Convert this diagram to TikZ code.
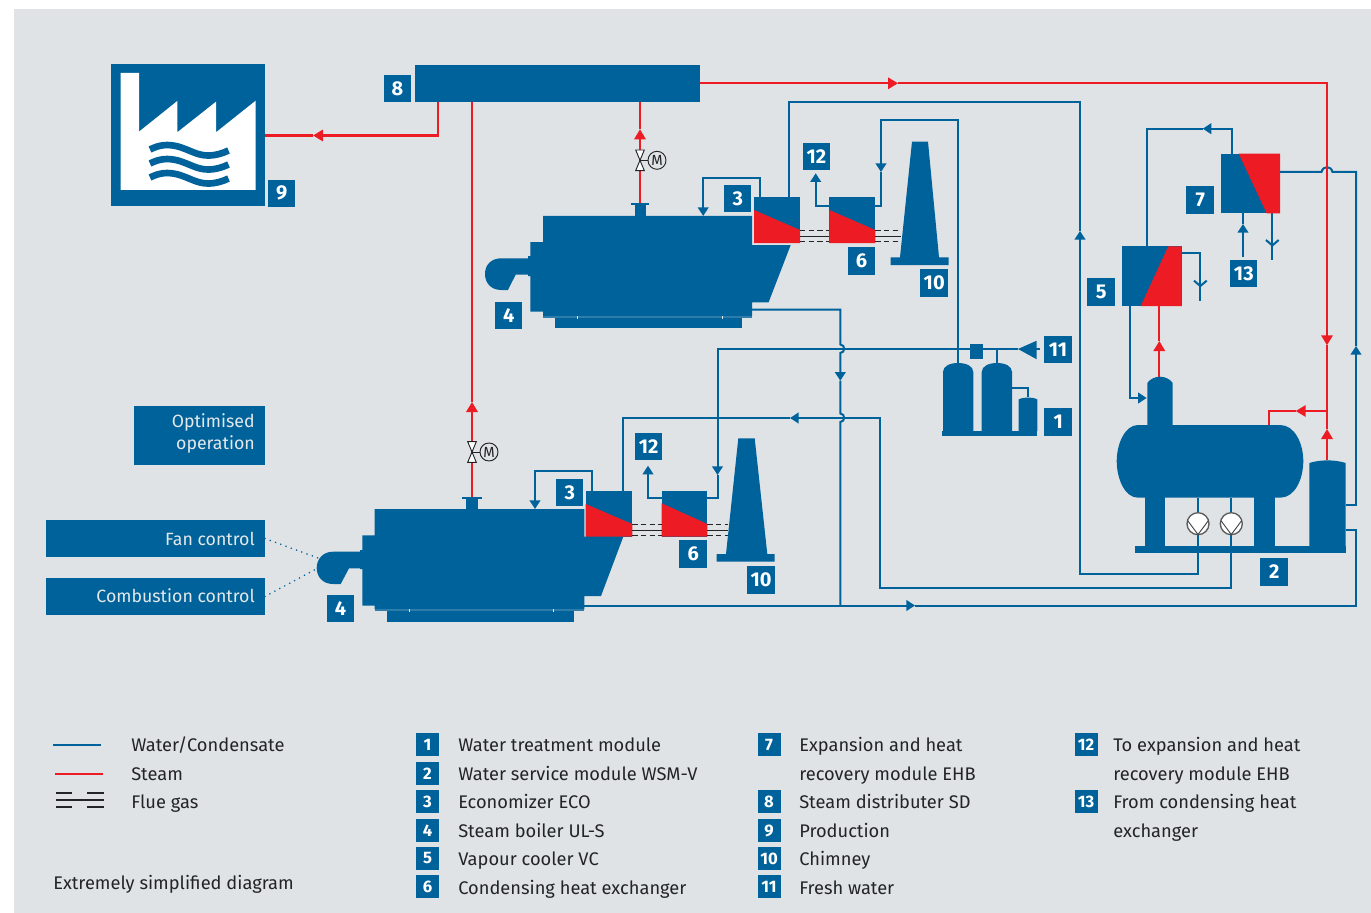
\documentclass[tikz,border=0pt]{standalone}
\usepackage{fontspec}
\setmainfont{Fira Sans}
\usetikzlibrary{arrows.meta}
\definecolor{bg}{HTML}{DFE3E6}
\definecolor{bl}{HTML}{00629A}
\definecolor{rd}{HTML}{ED1C24}
\definecolor{ink}{HTML}{222426}
\definecolor{pale}{HTML}{E4E8EA}
\tikzset{
  x=0.75pt,y=-0.75pt,
  water/.style={draw=bl,line width=1.5pt},
  steam/.style={draw=rd,line width=1.6pt},
  flowtip/.style={-{Triangle[length=6.5pt,width=8pt]}},
  steamtip/.style={-{Triangle[length=7.5pt,width=8.5pt]}},
  gasdash/.style={draw=ink,line width=0.8pt,dash pattern=on 4pt off 2.5pt},
  gasline/.style={draw=ink,line width=0.9pt},
  blockbox/.style={fill=bl,draw=none,inner sep=0pt,outer sep=0pt},
  hxbox/.style={fill=bl,draw=none,inner sep=0pt,outer sep=0pt},
  tagbox/.style={fill=bl,text=white,inner sep=0pt,outer sep=0pt,font=\fontsize{15}{15}\selectfont\bfseries},
  keybox/.style={fill=bl,text=white,inner sep=0pt,outer sep=0pt,font=\fontsize{12.5}{12.5}\selectfont\bfseries},
  ctrlbox/.style={fill=bl,inner sep=0pt,outer sep=0pt},
  ctrltext/.style={text=pale,anchor=base east,inner sep=0pt,font=\fontsize{13.3}{13.3}\selectfont},
  keytext/.style={text=ink,anchor=base west,inner sep=0pt,font=\fontsize{13.7}{13.7}\selectfont},
  pumpring/.style={circle,fill=white,draw=ink!75,line width=1pt,minimum size=16.5pt,inner sep=0pt,outer sep=0pt},
  motor/.style={circle,draw=ink,line width=0.7pt,minimum size=13.5pt,inner sep=0pt,outer sep=0pt,font=\fontsize{11}{11}\selectfont,text=ink},
  dots/.style={draw=bl,line width=1.3pt,line cap=round,dash pattern=on 0pt off 4.2pt}
}
\newcommand{\blk}[6]{\node[#1,minimum width={((#5)-(#3))*0.75pt},minimum height={((#6)-(#4))*0.75pt}] (#2) at ({(#3+#5)/2},{(#4+#6)/2}) {};}
\newcommand{\numtag}[7][tagbox]{\node[#1,minimum width={((#5)-(#3))*0.75pt},minimum height={((#6)-(#4))*0.75pt}] (#2) at ({(#3+#5)/2},{(#4+#6)/2}) {#7};}
\newcommand{\fluegas}[2]{%
  \draw[gasdash] ([yshift=-8.2pt]#1.east) -- ([yshift=-8.2pt]#2.west);
  \draw[gasline] ([yshift=-12.4pt]#1.east) -- ([yshift=-12.4pt]#2.west);
  \draw[gasdash] ([yshift=-16.2pt]#1.east) -- ([yshift=-16.2pt]#2.west);}
\newcommand{\valve}[3]{% name x y
  \draw[fill=white,draw=ink,line width=0.7pt] (#2-4.3,#3-10.3) -- (#2+4.3,#3-10.3) -- (#2,#3) -- cycle;
  \draw[fill=white,draw=ink,line width=0.7pt] (#2-4.3,#3+10.3) -- (#2+4.3,#3+10.3) -- (#2,#3) -- cycle;
  \node[motor] (#1) at (#2+17,#3) {M};
  \draw[draw=ink,line width=0.7pt] (#2,#3) -- (#1.west);}
\newcommand{\key}[3]{\numtag[keybox]{k#1}{#2}{#3-11.5}{#2+23}{#3+11.5}{#1}}
\begin{document}
\begin{tikzpicture}
\useasboundingbox (0,0) rectangle (1371,913);
\fill[white] (0,0) rectangle (1371,913);
\fill[bg] (14,9) rectangle (1371,913);

% ---------- named blocks that connectors attach to
\blk{blockbox}{dist}{415.4}{65}{700}{102}
\blk{blockbox}{factory}{111}{64}{265}{206}
\coordinate (chimAin) at (901,220);
\coordinate (chimBin) at (728,513.7);

% ---------- named ports
\coordinate (ecoAloopOut) at (760,197);
\coordinate (boilAin) at (703.2,216);
\coordinate (ecoAtop) at (789.3,197);
\coordinate (cheAleft) at (829.3,205.7);
\coordinate (cheAright) at (875.4,205.7);
\coordinate (wtTop) at (957.5,363);
\coordinate (wtTopB) at (997,363);
\coordinate (freshTip) at (1018,349);
\coordinate (cheBright) at (707.3,498);
\coordinate (cheBleft) at (661.7,498);
\coordinate (ecoBloopOut) at (591.7,490.7);
\coordinate (boilBin) at (535,509);
\coordinate (ecoBtop) at (622.7,490.7);
\coordinate (boilAout) at (752,309.5);
\coordinate (boilBout) at (584.3,605.5);
\coordinate (wsReturn) at (1345.7,530);
\coordinate (wsFeed) at (1345.7,504.7);
\coordinate (vcTop) at (1147.3,246.3);
\coordinate (ehbTop) at (1232,153.7);
\coordinate (ehbRight) at (1280,172);
\coordinate (ehbDrain) at (1272.3,213.3);
\coordinate (ehbDrainEnd) at (1272.3,260);
\coordinate (vcRight) at (1181.7,252.7);
\coordinate (vcDrainEnd) at (1200.3,300.7);
\coordinate (vcBottom) at (1130,306);
\coordinate (daIn) at (1146.7,398);
\coordinate (daTop) at (1159.3,376.7);
\coordinate (vcRed) at (1159.3,306);
\coordinate (pump1top) at (1198,497.7);
\coordinate (pump2top) at (1231.3,497.7);
\coordinate (flashTop) at (1327,460);
\coordinate (junction) at (1327,411);
\coordinate (tankSteam) at (1269,425);
\coordinate (noz1) at (640,204);
\coordinate (noz2) at (472,497.7);

% ---------- pumps (nodes, filled in later over the pipes)
\path (1198,523.7) node[pumpring,draw=none,fill=none] (pump1) {};
\path (1231.3,523.7) node[pumpring,draw=none,fill=none] (pump2) {};

% ---------- water pipes
\draw[water,flowtip] (ecoAloopOut) -- (760,178) -- (703.2,178) -- (boilAin);
\draw[water,flowtip] (pump1.south) -- (1198,573.7) -- (1080,573.7) -- (1080,231);
\draw[water] (1080,231) -- (1080,102) -- (789.3,102) -- (ecoAtop);
\draw[water,flowtip] (cheAleft) -- (815.7,205.7) -- (815.7,173.3);
\draw[water,flowtip] (wtTop) -- (957.5,119.7) -- (881,119.7) -- (881,172);
\draw[water] (881,172) -- (881,205.7) -- (cheAright);
\draw[water,flowtip] (freshTip) -- (717.5,349) -- (717.5,475);
\draw[water] (717.5,475) -- (717.5,498) -- (cheBright);
\draw[water,flowtip] (cheBleft) -- (648,498) -- (648,465.7);
\draw[water,flowtip] (ecoBloopOut) -- (591.7,471.3) -- (535,471.3) -- (boilBin);
\draw[water,flowtip] (pump2.south) -- (1231.3,588) -- (880,588) -- (880,418) -- (790,418);
\draw[water] (790,418) -- (622.7,418) -- (ecoBtop);
\draw[water,flowtip] (boilAout) -- (840.3,309.5) -- (840.3,344.5) .. controls (845.5,345) and (845.5,352.5) .. (840.3,353) -- (840.3,380.7);
\draw[water] (840.3,380.7) -- (840.3,413.5) .. controls (845.5,414) and (845.5,421.5) .. (840.3,422) -- (840.3,605.5);
\draw[water,flowtip] (boilBout) -- (915,605.5);
\draw[water] (915,605.5) -- (1355.7,605.5) -- (1355.7,530) -- (wsReturn);
\draw[water,flowtip] (wsFeed) -- (1356,504.7) -- (1356,346);
\draw[water] (1356,346) -- (1356,172) -- (1332.5,172) .. controls (1331,165.5) and (1323,165.5) .. (1321.5,172) -- (ehbRight);
\draw[water,flowtip] (ehbTop) -- (1232,128.7) -- (1202.7,128.7);
\draw[water] (1202.7,128.7) -- (1147.3,128.7) -- (vcTop);
\draw[water] (ehbDrain) -- (ehbDrainEnd);
\draw[water] (1266,240) -- (1272.3,245.5) -- (1278.7,240);
\draw[water] (vcRight) -- (1200.3,252.7) -- (vcDrainEnd);
\draw[water] (1194,280.7) -- (1200.3,286) -- (1206.7,280.7);
\draw[water,flowtip] (vcBottom) -- (1130,398) -- (daIn);
\draw[water] (wtTopB) -- (997,349);
\draw[water] (1012,387.7) -- (1027.7,387.7) -- (1027.7,397);
\draw[water] (1034,349) -- (1040,349);
\draw[water] (pump1top) -- (pump1.north);
\draw[water] (pump2top) -- (pump2.north);

% ---------- steam pipes
\draw[steam,steamtip] (dist.east |- 700,83.3) -- (898,83.3);
\draw[steam] (898,83.3) -- (1327,83.3) -- (1327,337);
\draw[steam,steamtip] (1327,335) -- (1327,345.3);
\draw[steam] (1327,345.3) -- (junction);
\draw[steam,steamtip] (flashTop) -- (1327,429);
\draw[steam] (1327,429) -- (junction);
\draw[steam,steamtip] (junction) -- (1295.7,411);
\draw[steam] (1295.7,411) -- (1269,411) -- (tankSteam);
\draw[steam,steamtip] (daTop) -- (1159.3,341);
\draw[steam] (1159.3,341) -- (vcRed);
\draw[steam,steamtip] (437.9,102) -- (437.9,135.5) -- (313,135.5);
\draw[steam] (313,135.5) -- (factory.east |- 265,135.5);
\draw[steam,steamtip] (noz1) -- (640,129.3);
\draw[steam] (640,129.3) -- (640,102);
\draw[steam,steamtip] (noz2) -- (472,402);
\draw[steam] (472,402) -- (472,102);

% ---------- factory
\fill[white] (120.7,73) -- (139,73) -- (139,131.7) -- (177.3,101) -- (177.3,132.3) -- (216,101.7) -- (216,132.3) -- (255.7,100.7) -- (255.7,190) -- (120.7,190) -- cycle;
\foreach \dy in {0,14,28}{
  \draw[bl,line width=5pt] (150,149.5+\dy) .. controls (160,144.5+\dy) and (168,144+\dy) .. (178,146.5+\dy) .. controls (190,150+\dy) and (197,155.5+\dy) .. (208,155.5+\dy) .. controls (216,155.5+\dy) and (222,153.5+\dy) .. (228.5,150.5+\dy);
}

% ---------- upper boiler
\fill[bl] (543.2,216) -- (752,216) -- (752,245) -- (790.7,245) -- (768.6,302.3) -- (752,302.3) -- (752,316) -- (543.2,316) -- (543.2,311.7) -- (530.4,311.7) -- (530.4,276) -- (528.2,276) -- (528.2,274.7) -- (515.7,274.7) -- (507.9,290) -- (501.4,290) .. controls (491,290) and (485,283) .. (485,274) .. controls (485,265) and (491,258.3) .. (501.4,258.3) -- (528.2,258.3) -- (528.2,256) -- (530.4,256) -- (530.4,242) -- (543.2,242) -- cycle;
\fill[bl] (634.6,204) rectangle (645.7,216);
\fill[bl] (631,203) rectangle (649,205);
\fill[bl] (555.4,317.5) rectangle (742,327.7);
\fill[bl!80!bg] (543.2,316) rectangle (752,317.5);
\fill[bg] (577,316) rectangle (578,318.5);
\fill[bg] (721.5,316) rectangle (722.5,318.5);

% ---------- lower boiler
\fill[bl] (374.7,509) -- (584.3,509) -- (584.3,536.7) -- (623.3,536.7) -- (601,596) -- (584.3,596) -- (584.3,609.3) -- (374.7,609.3) -- (374.7,605.7) -- (362.3,605.7) -- (362.3,569) -- (360,569) -- (360,568.3) -- (349,568.3) -- (340.7,584) -- (333,584) .. controls (323,584) and (316.7,577) .. (316.7,568) .. controls (316.7,559) and (323,551.7) .. (333,551.7) -- (360,551.7) -- (360,550) -- (362.3,550) -- (362.3,535.3) -- (374.7,535.3) -- cycle;
\fill[bl] (466,497.7) rectangle (478,509);
\fill[bl] (462.3,496.5) rectangle (482,498.7);
\fill[bl] (386.7,611) rectangle (574.3,621.7);
\fill[bl!80!bg] (374.7,609.3) rectangle (584.3,611);
\fill[bg] (409,609.3) rectangle (410,611.5);
\fill[bg] (553,609.3) rectangle (554,611.5);

% ---------- heat exchangers
\blk{hxbox}{ecoA}{754}{197}{800}{243}
\fill[rd] (754,210) -- (800,230) -- (800,243) -- (754,243) -- cycle;
\blk{hxbox}{cheA}{829.3}{197}{875.4}{243}
\fill[rd] (829.3,210) -- (875.4,230) -- (875.4,243) -- (829.3,243) -- cycle;
\blk{hxbox}{ecoB}{585.7}{490.7}{632.3}{536.7}
\fill[rd] (585.7,504) -- (632.3,524) -- (632.3,536.7) -- (585.7,536.7) -- cycle;
\blk{hxbox}{cheB}{661.7}{490.7}{707.3}{536.7}
\fill[rd] (661.7,503.3) -- (707.3,524) -- (707.3,536.7) -- (661.7,536.7) -- cycle;
\blk{hxbox}{ehb}{1220.7}{153.7}{1280}{213.3}
\fill[rd] (1238.7,153.7) -- (1280,153.7) -- (1280,213.3) -- (1266.7,213.3) -- cycle;
\blk{hxbox}{vc}{1122}{246.3}{1181.7}{306}
\fill[rd] (1168.3,246.3) -- (1181.7,246.3) -- (1181.7,306) -- (1140.7,306) -- cycle;

% ---------- flue gas
\fluegas{ecoA}{cheA}
\fluegas{cheA}{chimAin}
\fluegas{ecoB}{cheB}
\fluegas{cheB}{chimBin}

% ---------- chimneys
\fill[bl] (912,141.7) -- (928,141.7) -- (939,257.3) -- (948.5,257.3) -- (948.5,265) -- (890.7,265) -- (890.7,257.3) -- (900,257.3) -- cycle;
\fill[bl] (738.3,438.3) -- (754.7,438.3) -- (767.3,554) -- (774.7,554) -- (774.7,561.7) -- (716.7,561.7) -- (716.7,554) -- (726,554) -- cycle;

% ---------- water treatment module
\fill[bl] (943,431) -- (943,372) .. controls (943,366) and (950,363) .. (958,363) .. controls (966,363) and (973.3,366) .. (973.3,372) -- (973.3,431) -- cycle;
\fill[bl] (981.7,431) -- (981.7,372) .. controls (981.7,366) and (989,363) .. (997,363) .. controls (1005,363) and (1012,366) .. (1012,372) -- (1012,431) -- cycle;
\fill[bl] (1018.7,431) -- (1018.7,399.5) .. controls (1022,397) and (1034,397) .. (1037.3,399.5) -- (1037.3,431) -- cycle;
\fill[bl] (942.3,431) rectangle (1037.3,436);
\blk{blockbox}{softener}{970.3}{344}{983.3}{358.7}
\fill[bl] (freshTip) -- (1036.7,340.7) -- (1036.7,359.3) -- cycle;

% ---------- water service module
\fill[bl] (1147.3,426) -- (1147.3,383) .. controls (1150,379) and (1155,376.7) .. (1160,376.7) .. controls (1165,376.7) and (1170,379) .. (1172.7,383) -- (1172.7,426) -- cycle;
\fill[bl] (1138,425) -- (1280,425) .. controls (1295,425) and (1303.3,444) .. (1303.3,461) .. controls (1303.3,479) and (1295,497.7) .. (1280,497.7) -- (1138,497.7) .. controls (1125,497.7) and (1116.7,479) .. (1116.7,461) .. controls (1116.7,444) and (1125,425) .. (1138,425) -- cycle;
\fill[bl] (1144.7,497) rectangle (1165.3,547);
\fill[bl] (1254.3,497) rectangle (1275.3,547);
\fill[bl] (1309.3,547) -- (1309.3,463) .. controls (1320,459.5) and (1335,459.5) .. (1345.7,463) -- (1345.7,547) -- cycle;
\fill[bl] (1135.3,546) rectangle (1345.7,552.7);
\foreach \p in {pump1,pump2}{
  \node[pumpring] at (\p) {};
  \draw[draw=ink!85,line width=0.7pt] ([shift={(-10.3,-3)}]\p.center) -- ([shift={(0,10.8)}]\p.center) -- ([shift={(10.3,-3)}]\p.center);
}

% ---------- valves
\valve{mA}{640}{160.3}
\valve{mB}{472}{452}

% ---------- numbered tags
\numtag{t8}{384}{75}{411}{102}{8}
\numtag{t9}{268}{180}{295.3}{206.7}{9}
\numtag{t3a}{724.3}{185.3}{751.4}{212}{3}
\numtag{t4a}{495.4}{302.3}{522}{329}{4}
\numtag{t6a}{847.5}{247}{875.4}{275}{6}
\numtag{t10a}{920.4}{269}{948}{297}{10}
\numtag{t12a}{803}{143}{830}{170}{12}
\numtag{t3b}{556.3}{479}{583.3}{506}{3}
\numtag{t12b}{635}{433}{662.3}{460}{12}
\numtag{t6b}{679.3}{540}{707.3}{567.7}{6}
\numtag{t10b}{747}{566}{775.3}{593.7}{10}
\numtag{t4b}{327}{595}{354}{621.7}{4}
\numtag{t5}{1087.3}{278}{1115.3}{306}{5}
\numtag{t7}{1186.3}{186}{1214.3}{214}{7}
\numtag{t13}{1230.3}{260}{1257.3}{286.7}{13}
\numtag{t2}{1260.3}{558}{1288.3}{586}{2}
\numtag{t11}{1044.3}{336}{1071.7}{362.7}{11}
\numtag{t1}{1044.3}{408}{1072.3}{436}{1}
\draw[water,flowtip] (1243,256.5) -- (1243,224);
\draw[water] (1243,224) -- (1243,213.3);

% ---------- control boxes
\blk{ctrlbox}{optim}{134}{406}{265}{465}
\blk{ctrlbox}{fan}{46}{520}{265}{557}
\blk{ctrlbox}{comb}{46}{578}{265}{615}
\node[ctrltext] at (255,427) {Optimised};
\node[ctrltext] at (255,449) {operation};
\node[ctrltext] at (255,545) {Fan control};
\node[ctrltext] at (255,602) {Combustion control};
\coordinate (burnA) at (318,558);
\coordinate (burnB) at (318,568);
\draw[dots] (fan.east) -- (burnA);
\draw[dots] (comb.east) -- (burnB);

% ---------- legend
\coordinate (lgW1) at (53.3,745); \coordinate (lgW2) at (101,745);
\coordinate (lgS1) at (55,773.7); \coordinate (lgS2) at (102.7,773.7);
\draw[water] (lgW1) -- (lgW2);
\draw[steam] (lgS1) -- (lgS2);
\coordinate (lgG1) at (56,800); \coordinate (lgG2) at (103.5,800);
\draw[ink,line width=1.2pt] (lgG1) -- (lgG2);
\draw[ink,line width=1.2pt] (56,792.7) -- (71.7,792.7) (87.3,792.7) -- (103.5,792.7);
\draw[ink,line width=1.2pt] (56,807) -- (71.7,807) (87.3,807) -- (103.5,807);
\node[keytext] at (131,751) {Water/Condensate};
\node[keytext] at (131,780) {Steam};
\node[keytext] at (131,808) {Flue gas};
\node[keytext] at (53,889) {Extremely simplified diagram};

\key{1}{416}{744.5} \node[keytext] at (458,751) {Water treatment module};
\key{2}{416}{773.5} \node[keytext] at (458,780) {Water service module WSM-V};
\key{3}{416}{801.5} \node[keytext] at (458,808) {Economizer ECO};
\key{4}{416}{830.5} \node[keytext] at (458,837) {Steam boiler UL-S};
\key{5}{416}{858.5} \node[keytext] at (458,865) {Vapour cooler VC};
\key{6}{416}{886.5} \node[keytext] at (458,894) {Condensing heat exchanger};

\key{7}{757.5}{744.5} \node[keytext] at (799,751) {Expansion and heat};
\node[keytext] at (799,780) {recovery module EHB};
\key{8}{757.5}{801.5} \node[keytext] at (799,808) {Steam distributer SD};
\key{9}{757.5}{830.5} \node[keytext] at (799,837) {Production};
\key{10}{757.5}{858.5} \node[keytext] at (799,865) {Chimney};
\key{11}{757.5}{886.5} \node[keytext] at (799,894) {Fresh water};

\key{12}{1074.5}{744.5} \node[keytext] at (1113,751) {To expansion and heat};
\node[keytext] at (1113,780) {recovery module EHB};
\key{13}{1074.5}{801.5} \node[keytext] at (1113,808) {From condensing heat};
\node[keytext] at (1113,837) {exchanger};
\end{tikzpicture}
\end{document}
